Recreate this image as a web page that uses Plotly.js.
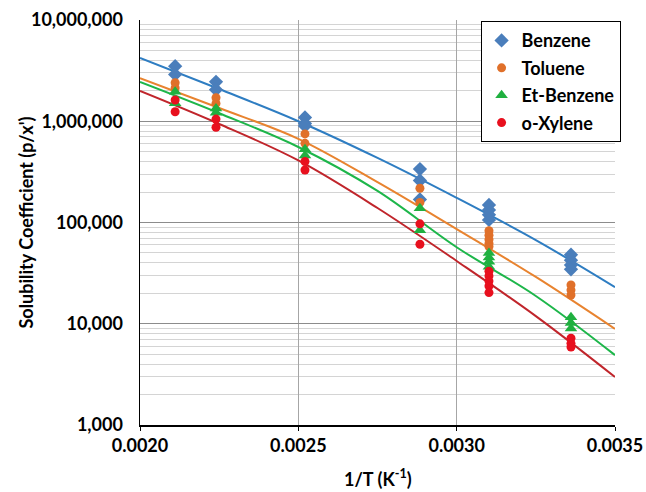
<!DOCTYPE html>
<html>
<head>
<meta charset="utf-8">
<script src="https://cdn.plot.ly/plotly-3.0.1.min.js"></script>
<style>html,body{margin:0;padding:0;background:#fff;}#chart{width:646px;height:492px;}</style>
</head>
<body>
<div id="chart"></div>
<script>
// Measured points (x = 1/T, y = solubility coefficient)
const benzeneX = [0.002111,0.002111, 0.00224,0.00224, 0.002521,0.002521,0.002521, 0.002884,0.002884,0.002884, 0.003102,0.003102,0.003102,0.003102, 0.003361,0.003361,0.003361,0.003361];
const benzeneY = [3.5e6,2.9e6, 2.45e6,2.05e6, 1.09e6,9.5e5,9.0e5, 3.37e5,2.6e5,1.69e5, 1.49e5,1.33e5,1.19e5,1.06e5, 4.8e4,4.25e4,3.8e4,3.45e4];

const tolueneX = [0.002111,0.002111, 0.00224,0.00224, 0.002521,0.002521, 0.002884,0.002884, 0.003102,0.003102,0.003102,0.003102,0.003102, 0.003361,0.003361,0.003361];
const tolueneY = [2.4e6,2.13e6, 1.71e6,1.5e6, 7.5e5,6.05e5, 2.18e5,1.58e5, 8.3e4,7.5e4,6.8e4,6.2e4,5.8e4, 2.42e4,2.15e4,1.92e4];

const etBenzeneX = [0.002111,0.002111, 0.00224,0.00224, 0.002521,0.002521, 0.002884,0.002884, 0.003102,0.003102,0.003102,0.003102, 0.003361,0.003361,0.003361];
const etBenzeneY = [1.96e6,1.51e6, 1.34e6,1.21e6, 5.3e5,4.6e5, 1.38e5,8.4e4, 5.0e4,4.5e4,4.1e4,3.66e4, 1.16e4,1.02e4,9.0e3];

const oXyleneX = [0.002111,0.002111, 0.00224,0.00224, 0.002521,0.002521, 0.002884,0.002884, 0.003102,0.003102,0.003102,0.003102,0.003102, 0.003361,0.003361,0.003361];
const oXyleneY = [1.62e6,1.24e6, 1.05e6,8.7e5, 4.0e5,3.3e5, 9.7e4,6.1e4, 3.3e4,2.97e4,2.64e4,2.36e4,2.03e4, 7.2e3,6.4e3,5.9e3];

// Fitted curves
const fitX = [0.0020, 0.00225, 0.0025, 0.00275, 0.0030, 0.00325, 0.0035];
const benzeneFit   = [4.22e6, 2.08e6, 1.0e6, 4.34e5, 1.75e5, 6.7e4, 2.3e4];
const tolueneFit   = [2.67e6, 1.35e6, 6.7e5, 2.5e5, 8.6e4, 2.9e4, 8.9e3];
const etBenzeneFit = [2.44e6, 1.2e6, 5.57e5, 2.05e5, 5.7e4, 1.88e4, 4.9e3];
const oXyleneFit   = [1.99e6, 9.4e5, 4.1e5, 1.39e5, 4.17e4, 1.19e4, 2.98e3];

const names = ['Benzene','Toluene','Et-Benzene','o-Xylene'];
const xTickVals = [0.0020, 0.0025, 0.0030, 0.0035];
const xTickText = ['0.0020','0.0025','0.0030','0.0035'];
const yTickVals = [1e3, 1e4, 1e5, 1e6, 1e7];
const yTickText = ['1,000','10,000','100,000','1,000,000','10,000,000'];
const xTitle = '1/T (K<sup>-1</sup>)';
const yTitle = "Solubility Coefficient (p/x')";

const markerColors = ['#4a7ebb','#e0702a','#20b040','#e8101e'];
const lineColors = ['#2e7dc2','#e8832f','#1db64a','#c0252b'];
const symbols = ['diamond','circle','triangle-up','circle'];
const sizes = [11, 9, 11, 9];

const fits = [benzeneFit, tolueneFit, etBenzeneFit, oXyleneFit];
const ptsX = [benzeneX, tolueneX, etBenzeneX, oXyleneX];
const ptsY = [benzeneY, tolueneY, etBenzeneY, oXyleneY];

const traces = [];
for (let i = 0; i < 4; i++) {
  traces.push({x: fitX, y: fits[i], type: 'scatter', mode: 'lines', line: {color: lineColors[i], width: 2, shape: 'spline', smoothing: 1}, showlegend: false, hoverinfo: 'skip'});
}
for (let i = 0; i < 4; i++) {
  traces.push({x: ptsX[i], y: ptsY[i], type: 'scatter', mode: 'markers', name: names[i], legendgroup: 'g' + i,
               marker: {color: markerColors[i], symbol: symbols[i], size: sizes[i]}});
}

const font = 'Lato, "Open Sans", sans-serif';
const layout = {
  width: 646, height: 492,
  margin: {l: 140, r: 31, t: 20, b: 67},
  paper_bgcolor: '#fff', plot_bgcolor: '#fff',
  font: {family: font, size: 18, color: '#000', weight: 'bold'},
  showlegend: true,
  legend: {x: 0.717, y: 0.997, xanchor: 'left', yanchor: 'top', bgcolor: '#fff', bordercolor: '#000', borderwidth: 1,
           traceorder: 'grouped', tracegroupgap: 1, itemwidth: 30,
           font: {family: font, size: 18, color: '#000', weight: 'bold'}, itemsizing: 'trace'},
  xaxis: {
    range: [0.0020, 0.0035], tickvals: xTickVals, ticktext: xTickText,
    showgrid: true, gridcolor: '#a6a6a6', gridwidth: 1,
    showline: true, linecolor: '#000', linewidth: 1.5,
    ticks: 'outside', ticklen: 4, tickcolor: '#000',
    zeroline: false, mirror: false, automargin: false,
    tickfont: {family: font, size: 18, weight: 'bold'}
  },
  yaxis: {
    type: 'log', range: [3, 7], tickvals: yTickVals, ticktext: yTickText,
    showgrid: true, gridcolor: '#8c8c8c', gridwidth: 1,
    minor: {dtick: 'D1', showgrid: true, gridcolor: '#d4d4d4', gridwidth: 1, ticks: ''},
    showline: true, linecolor: '#000', linewidth: 1.5,
    ticks: '', ticklabelstandoff: 12,
    zeroline: false, automargin: false,
    tickfont: {family: font, size: 18, weight: 'bold'}
  },
  annotations: [
    {text: xTitle, xref: 'paper', yref: 'paper', x: 0.5, y: -0.131, xanchor: 'center', yanchor: 'middle', showarrow: false,
     font: {family: font, size: 18, color: '#000', weight: 'bold'}},
    {text: yTitle, xref: 'paper', yref: 'paper', x: -0.242, y: 0.5, xanchor: 'center', yanchor: 'middle', showarrow: false, textangle: -90,
     font: {family: font, size: 18, color: '#000', weight: 'bold'}}
  ]
};

Plotly.newPlot('chart', traces, layout, {displayModeBar: false, staticPlot: true});
</script>
</body>
</html>
